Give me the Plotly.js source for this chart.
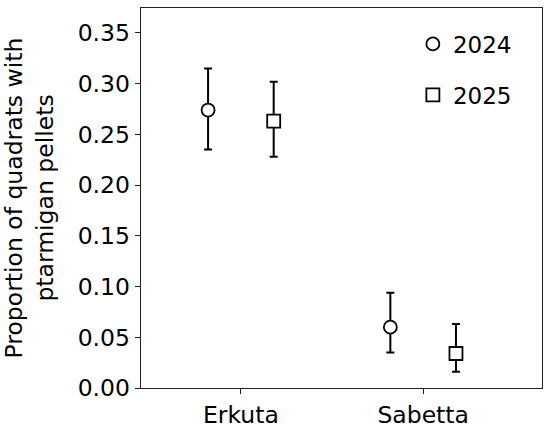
<!DOCTYPE html>
<html>
<head>
<meta charset="utf-8">
<script src="https://cdn.plot.ly/plotly-3.0.1.min.js"></script>
<style>html,body{margin:0;padding:0;background:#fff;}#chart{width:550px;height:428px;}</style>
</head>
<body>
<div id="chart"></div>
<script>
// Data
const sites = ['Erkuta', 'Sabetta'];
const years = ['2024', '2025'];
const mean2024 = [0.274, 0.060];
const upper2024 = [0.315, 0.094];
const lower2024 = [0.235, 0.035];
const mean2025 = [0.263, 0.034];
const upper2025 = [0.302, 0.063];
const lower2025 = [0.228, 0.016];
const yTicks = [0, 0.05, 0.10, 0.15, 0.20, 0.25, 0.30, 0.35];

const offset = 0.18;
const idx = sites.map((s, i) => i);

function mk(name, mean, up, lo, sym, dx, grp) {
  return {
    type: 'scatter', mode: 'markers', name: name,
    legendgroup: grp,
    x: idx.map(i => i + dx), y: mean,
    marker: {symbol: sym, size: 13, color: '#ffffff', line: {color: '#000000', width: 1.8}},
    error_y: {type: 'data', symmetric: false,
      array: mean.map((m, i) => up[i] - m),
      arrayminus: mean.map((m, i) => m - lo[i]),
      color: '#000000', thickness: 2, width: 4},
    cliponaxis: false
  };
}

const traces = [
  mk(years[0], mean2024, upper2024, lower2024, 'circle', -offset, 'a'),
  mk(years[1], mean2025, upper2025, lower2025, 'square', offset, 'b')
];

const FS = 23.5;
const layout = {
  width: 550, height: 428,
  margin: {l: 141, r: 8, t: 8, b: 40},
  paper_bgcolor: '#ffffff', plot_bgcolor: '#ffffff',
  font: {family: 'DejaVu Sans', size: FS, color: '#000000'},
  showlegend: true,
  legend: {x: 0.678, y: 0.962, xanchor: 'left', yanchor: 'top',
    font: {family: 'DejaVu Sans', size: 23, color: '#000'},
    bgcolor: 'rgba(0,0,0,0)', traceorder: 'grouped', tracegroupgap: 18},
  xaxis: {
    range: [-0.548, 1.652], tickmode: 'array', tickvals: idx, ticktext: sites,
    showgrid: false, zeroline: false, showline: true, mirror: true,
    linecolor: '#222', linewidth: 1.3, ticks: 'outside', ticklen: 5, tickcolor: '#222',
    tickfont: {family: 'DejaVu Sans', size: FS, color: '#000'}
  },
  yaxis: {
    range: [0, 0.3746], tickmode: 'array',
    tickvals: yTicks,
    tickformat: '.2f',
    showgrid: false, zeroline: false, showline: true, mirror: true,
    linecolor: '#222', linewidth: 1.3, ticks: 'outside', ticklen: 5, tickcolor: '#222',
    tickfont: {family: 'DejaVu Sans', size: FS, color: '#000'},
    title: {text: 'Proportion of quadrats with<br>ptarmigan pellets', standoff: 18,
      font: {family: 'DejaVu Sans', size: FS, color: '#000'}}
  }
};

Plotly.newPlot('chart', traces, layout, {displayModeBar: false, staticPlot: true});
</script>
</body>
</html>
